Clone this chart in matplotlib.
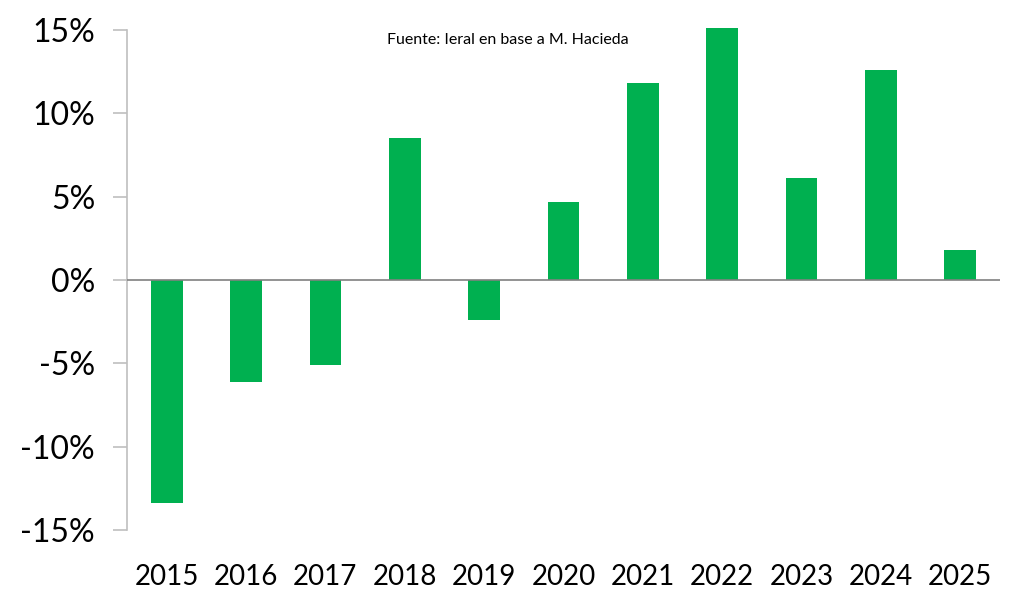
import matplotlib
matplotlib.use("Agg")
import matplotlib.pyplot as plt
import numpy as np

years = ["2015", "2016", "2017", "2018", "2019", "2020", "2021", "2022", "2023", "2024", "2025"]
values = [-13.4, -6.1, -5.1, 8.5, -2.4, 4.7, 11.8, 15.1, 6.1, 12.6, 1.8]
yticks = [-15, -10, -5, 0, 5, 10, 15]
source = "Fuente: Ieral en base a M. Hacieda"

plt.rcParams['font.family'] = ['Lato', 'DejaVu Sans']

fig = plt.figure(figsize=(10.12, 5.89), dpi=100)
ax = fig.add_axes([127/1012, 59/589, 873/1012, 500/589])

x = np.arange(len(years))
ax.bar(x, values, width=0.40, color='#00B050', zorder=2, clip_on=False)

ax.set_xlim(-0.5, len(years) - 0.5)
ax.set_ylim(-15, 15)
ax.axhline(0, color='#808080', lw=1.2, zorder=3)

ax.set_yticks(yticks)
ax.set_yticklabels([f"{v}%" for v in yticks], fontsize=23)
ax.set_xticks(x)
ax.set_xticklabels(years, fontsize=20)
ax.tick_params(axis='x', length=0, pad=24.5)
ax.tick_params(axis='y', length=10, width=1.2, color='#BFBFBF', pad=13)

for s in ['top', 'right', 'bottom']:
    ax.spines[s].set_visible(False)
ax.spines['left'].set_color('#BFBFBF')
ax.spines['left'].set_linewidth(1.2)

fig.text(387/1012, 1 - 40/589, source, fontsize=11.5, va='center', ha='left')

fig.savefig("out.png", dpi=100)
